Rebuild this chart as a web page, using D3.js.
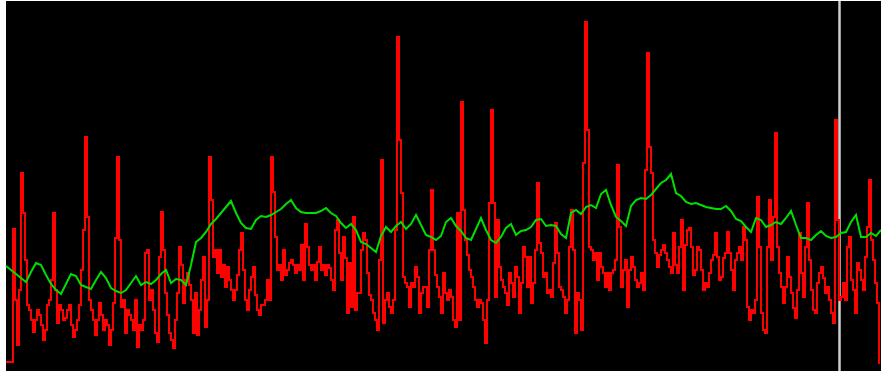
<!DOCTYPE html>
<html>
<head>
<meta charset="utf-8">
<script src="https://cdn.jsdelivr.net/npm/d3@7"></script>
<style>
  html, body { margin: 0; padding: 0; background: #ffffff; }
  svg { display: block; }
</style>
</head>
<body>
<script>
// Raw signal level, one reading every 2 time units
const rawLevel = [
  8, 8, 8, 8, 141, 70, 25, 80, 197, 157,
  110, 65, 60, 50, 38, 50, 60, 55, 45, 30,
  40, 65, 70, 90, 157, 80, 47, 65, 60, 50,
  52, 60, 65, 45, 33, 40, 50, 65, 100, 140,
  233, 153, 70, 60, 50, 35, 50, 67, 55, 40,
  50, 45, 25, 40, 67, 132, 213, 130, 63, 70,
  37, 60, 55, 50, 40, 70, 23, 45, 40, 50,
  117, 120, 70, 80, 60, 37, 28, 113, 158, 120,
  77, 55, 37, 30, 22, 50, 77, 123, 105, 67,
  90, 97, 85, 70, 37, 77, 35, 60, 90, 113,
  43, 70, 213, 170, 113, 120, 97, 120, 93, 105,
  83, 103, 90, 80, 70, 80, 95, 120, 137, 100,
  70, 60, 80, 93, 103, 75, 60, 55, 65, 65,
  70, 90, 70, 213, 178, 133, 100, 105, 90, 120,
  95, 100, 107, 110, 105, 97, 105, 100, 125, 90,
  146, 123, 105, 100, 105, 90, 108, 123, 100, 105,
  95, 105, 102, 90, 80, 140, 150, 117, 90, 133,
  112, 57, 107, 63, 153, 60, 77, 77, 120, 137,
  130, 97, 75, 70, 57, 50, 40, 110, 210, 47,
  70, 77, 63, 57, 70, 140, 333, 230, 177, 93,
  87, 83, 63, 87, 83, 103, 93, 57, 77, 83,
  83, 63, 120, 180, 120, 95, 83, 73, 57, 97,
  77, 70, 80, 73, 50, 43, 157, 50, 268, 160,
  130, 115, 100, 93, 83, 70, 63, 70, 67, 50,
  27, 70, 167, 260, 167, 73, 150, 103, 90, 83,
  77, 65, 97, 87, 73, 103, 93, 57, 87, 123,
  113, 83, 113, 67, 87, 120, 187, 127, 117, 93,
  97, 77, 80, 73, 107, 147, 117, 83, 80, 73,
  57, 70, 123, 160, 120, 37, 77, 70, 40, 207,
  348, 240, 123, 120, 110, 117, 90, 117, 103, 97,
  83, 97, 80, 97, 100, 110, 205, 143, 83, 100,
  110, 63, 100, 113, 103, 90, 83, 87, 97, 80,
  200, 317, 223, 197, 130, 117, 103, 115, 120, 125,
  117, 110, 103, 97, 137, 105, 97, 123, 150, 80,
  125, 140, 142, 123, 95, 100, 123, 120, 100, 80,
  87, 83, 97, 110, 115, 137, 113, 90, 93, 112,
  117, 138, 117, 100, 80, 110, 117, 123, 110, 143,
  130, 63, 50, 60, 57, 70, 173, 123, 57, 40,
  37, 123, 170, 110, 153, 237, 123, 97, 83, 67,
  83, 113, 93, 77, 62, 52, 80, 137, 97, 73,
  123, 167, 110, 80, 60, 57, 87, 97, 103, 92,
  77, 83, 70, 57, 47, 250, 150, 70, 73, 87,
  70, 123, 133, 90, 80, 57, 107, 100, 90, 80,
  113, 143, 190, 130, 110, 87, 67, 7
];

// Running average of the same signal, one value every 5 time units
const avgLevel = [
  104, 100, 96, 92, 88, 98, 107, 105, 95, 86,
  80, 76, 86, 96, 94, 85, 83, 81, 90, 98,
  92, 82, 79, 77, 80, 87, 94, 85, 88, 86,
  90, 96, 100, 87, 91, 90, 85, 105, 128, 132,
  138, 146, 151, 157, 163, 169, 157, 147, 142, 141,
  150, 154, 153, 155, 158, 161, 166, 170, 162, 158,
  157, 157, 157, 159, 162, 157, 154, 147, 142, 146,
  140, 128, 126, 122, 118, 134, 143, 138, 144, 148,
  141, 146, 155, 145, 135, 133, 130, 134, 148, 152,
  144, 139, 132, 130, 141, 152, 140, 130, 127, 133,
  142, 146, 135, 139, 140, 143, 150, 151, 144, 145,
  144, 136, 132, 157, 160, 156, 163, 165, 162, 176,
  180, 165, 153, 149, 144, 164, 170, 172, 171, 175,
  181, 187, 190, 196, 177, 174, 168, 166, 167, 165,
  163, 162, 161, 161, 164, 159, 151, 149, 143, 138,
  152, 150, 143, 145, 148, 146, 152, 159, 145, 132,
  132, 130, 135, 139, 134, 132, 133, 137, 138, 148,
  155, 133, 133, 137, 134, 140
];

const RAW_STEP = 2;       // time units between raw readings
const AVG_STEP = 5;       // time units between averaged values
const timeSpan = [0, 875];
const levelSpan = [0, 370];
const cursorTime = 833.5; // position of the time cursor

const W = 881, H = 371;
const plot = { left: 6, top: 1, right: 881, bottom: 371 };

const svg = d3.select("body").append("svg")
  .attr("width", W).attr("height", H);

svg.append("rect")
  .attr("x", 0).attr("y", 0).attr("width", W).attr("height", H)
  .attr("fill", "#ffffff");

svg.append("rect")
  .attr("x", plot.left).attr("y", plot.top)
  .attr("width", plot.right - plot.left).attr("height", plot.bottom - plot.top)
  .attr("fill", "#000000");

const x = d3.scaleLinear().domain(timeSpan).range([plot.left, plot.right]);
const y = d3.scaleLinear().domain(levelSpan).range([plot.bottom - 1, plot.top - 1]);

const g = svg.append("g");

// time cursor
g.append("line")
  .attr("x1", x(cursorTime)).attr("x2", x(cursorTime))
  .attr("y1", plot.top).attr("y2", plot.bottom)
  .attr("stroke", "#cfcfcf")
  .attr("stroke-width", 2.5);

const rawLine = d3.line()
  .x((d, i) => x(i * RAW_STEP))
  .y(d => y(d))
  .curve(d3.curveStep);

g.append("path")
  .datum(rawLevel)
  .attr("d", rawLine)
  .attr("fill", "none")
  .attr("stroke", "#ff0000")
  .attr("stroke-width", 1.6)
  .attr("shape-rendering", "crispEdges");

const avgLine = d3.line()
  .x((d, i) => x(i * AVG_STEP))
  .y(d => y(d))
  .curve(d3.curveLinear);

g.append("path")
  .datum(avgLevel)
  .attr("d", avgLine)
  .attr("fill", "none")
  .attr("stroke", "#00e000")
  .attr("stroke-width", 2);
</script>
</body>
</html>
